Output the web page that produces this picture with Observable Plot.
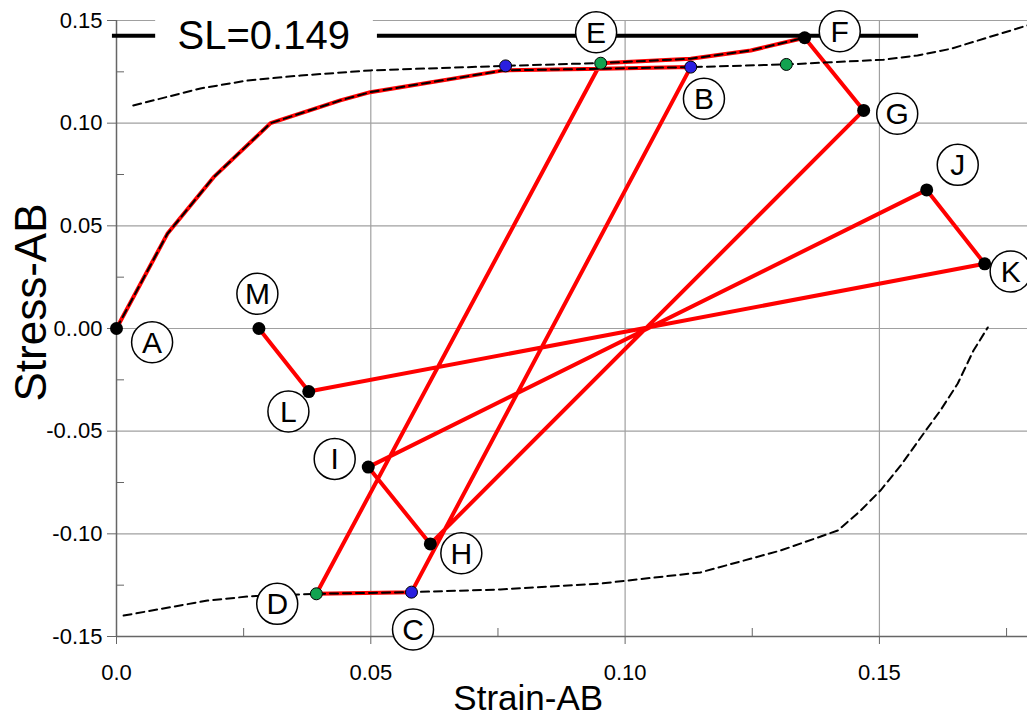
<!DOCTYPE html>
<html>
<head>
<meta charset="utf-8">
<script src="https://cdn.jsdelivr.net/npm/d3@7"></script>
<script src="https://cdn.jsdelivr.net/npm/@observablehq/plot@0.6"></script>
<style>
  html, body { margin: 0; padding: 0; background: white; }
  #chart { width: 1027px; height: 719px; overflow: hidden; }
</style>
</head>
<body>
<div id="chart"></div>
<script>
// ---- tick labels ----
const xTicks = [0, 0.05, 0.10, 0.15];
const xTickLabels = ["0.0", "0.05", "0.10", "0.15"];
const yTicks = [-0.15, -0.10, -0.05, 0, 0.05, 0.10, 0.15];
const yTickLabels = ["-0.15", "-0.10", "-0..05", "0..00", "0.05", "0.10", "0.15"];
const xMinor = [0.025, 0.075, 0.125, 0.175];
const yMinor = [-0.125, -0.075, -0.025, 0.025, 0.075, 0.125];

// ---- red stress path A..M ----
const pathStrain = [0, 0.0100, 0.0191, 0.0303, 0.0440, 0.0499, 0.0761, 0.0952, 0.1129, 0.0580, 0.0393, 0.0952, 0.1129, 0.1247, 0.1353, 0.1469, 0.0617, 0.0495, 0.1593, 0.1707, 0.0378, 0.0280];
const pathStress = [0, 0.0461, 0.0737, 0.1000, 0.1111, 0.1151, 0.1257, 0.1265, 0.1273, -0.1284, -0.1292, 0.1292, 0.1314, 0.1354, 0.1416, 0.1062, -0.1049, -0.0675, 0.0675, 0.0315, -0.0307, 0.0];

// ---- dashed curves ----
const backboneStrain = [0, 0.0100, 0.0191, 0.0303, 0.0440, 0.0499, 0.0761, 0.0952, 0.1129, 0.1317, 0.1508, 0.1575, 0.1640, 0.1705, 0.1791];
const backboneStress = [0, 0.0461, 0.0737, 0.1000, 0.1111, 0.1151, 0.1257, 0.1265, 0.1273, 0.1286, 0.1309, 0.1330, 0.1362, 0.1411, 0.1476];
const upperStrain = [0.0033, 0.0165, 0.0258, 0.0362, 0.0499, 0.0765, 0.0952, 0.1129, 0.1247, 0.1353];
const upperStress = [0.1086, 0.1169, 0.1208, 0.1232, 0.1257, 0.1279, 0.1293, 0.1314, 0.1354, 0.1416];
const lowerStrain = [0.0014, 0.0179, 0.0263, 0.0393, 0.0580, 0.0755, 0.0952, 0.1148, 0.1306, 0.1418, 0.1463, 0.1502, 0.1542, 0.1587, 0.1620, 0.1654, 0.1685, 0.1713];
const lowerStress = [-0.1398, -0.1325, -0.1304, -0.1292, -0.1284, -0.1271, -0.1242, -0.1188, -0.1081, -0.0984, -0.0887, -0.0789, -0.0667, -0.0511, -0.0399, -0.0268, -0.0107, 0.0005];

// ---- marker points ----
const blackStrain = [0, 0.1353, 0.1469, 0.0617, 0.0495, 0.1593, 0.1707, 0.0378, 0.0280];
const blackStress = [0, 0.1416, 0.1062, -0.1049, -0.0675, 0.0675, 0.0315, -0.0307, 0.0];
const blueStrain = [0.0765, 0.1129, 0.0580];
const blueStress = [0.1279, 0.1273, -0.1284];
const greenStrain = [0.0952, 0.0393, 0.1317];
const greenStress = [0.1292, -0.1292, 0.1286];

// ---- point labels ----
const labelNames = ["A", "B", "C", "D", "E", "F", "G", "H", "I", "J", "K", "L", "M"];
const labelStrain = [0.0070, 0.1155, 0.0583, 0.0316, 0.0943, 0.1422, 0.1535, 0.0678, 0.0429, 0.1654, 0.1758, 0.0338, 0.0277];
const labelStress = [-0.0067, 0.1119, -0.1466, -0.1341, 0.1443, 0.1448, 0.1046, -0.1095, -0.0635, 0.0797, 0.0278, -0.0404, 0.0169];

// ---- strength line ----
const slText = "SL=0.149";
const slStress = 0.1426;
const slSegStart = [-0.0008, 0.0513];
const slSegEnd = [0.0077, 0.1577];
const slTextStrain = 0.0120;
const slBox = {x1: 0.0077, x2: 0.0505, y1: 0.1252, y2: 0.1560};

const xTitle = "Strain-AB";
const yTitle = "Stress-AB";

const zip = (xs, ys) => xs.map((x, i) => ({x, y: ys[i]}));
const path = zip(pathStrain, pathStress);
const backbone = zip(backboneStrain, backboneStress);
const upper = zip(upperStrain, upperStress);
const lower = zip(lowerStrain, lowerStress);
const blacks = zip(blackStrain, blackStress);
const blues = zip(blueStrain, blueStress);
const greens = zip(greenStrain, greenStress);
const labels = labelNames.map((n, i) => ({n, x: labelStrain[i], y: labelStress[i]}));
const slSegs = slSegStart.map((s, i) => ({x1: s, x2: slSegEnd[i], y: slStress}));

const fmt = (ticks, labs) => d => labs[ticks.findIndex(t => Math.abs(t - d) < 1e-9)];

const gridColor = "#a0a0a0";
const axisColor = "#666666";
const dash = "8,5";

const chart = Plot.plot({
  width: 1027,
  height: 719,
  marginLeft: 116,
  marginRight: -4.5,
  marginTop: 20,
  marginBottom: 83,
  x: {domain: [0, 0.18]},
  y: {domain: [-0.15, 0.15]},
  style: {fontFamily: "'Liberation Sans', Arial, sans-serif", fontSize: "22px", background: "white", color: "black"},
  marks: [
    Plot.gridX(xTicks.filter(d => d > 0), {stroke: gridColor, strokeOpacity: 1, strokeWidth: 1.2}),
    Plot.gridY(yTicks.filter(d => d > -0.15), {stroke: gridColor, strokeOpacity: 1, strokeWidth: 1.2}),
    Plot.rect([slBox], {x1: "x1", x2: "x2", y1: "y1", y2: "y2", fill: "white"}),
    Plot.ruleX([0], {stroke: axisColor, strokeWidth: 1.5}),
    Plot.ruleY([-0.15], {stroke: axisColor, strokeWidth: 1.5}),
    Plot.axisX(xTicks, {anchor: "bottom", tickSize: 8, tickPadding: 20, tickFormat: fmt(xTicks, xTickLabels), stroke: axisColor, label: null, fontSize: 22}),
    Plot.axisX(xMinor, {anchor: "bottom", tickSize: 8, dy: -8, text: null, stroke: axisColor, label: null}),
    Plot.axisY(yTicks, {anchor: "left", tickSize: 9, tickPadding: 5, tickFormat: fmt(yTicks, yTickLabels), stroke: axisColor, label: null, fontSize: 22}),
    Plot.axisY(yMinor, {anchor: "left", tickSize: 8, dx: 8, text: null, stroke: axisColor, label: null}),
    Plot.line(path, {x: "x", y: "y", stroke: "#ff0000", strokeWidth: 4, strokeLinejoin: "round"}),
    Plot.line(backbone, {x: "x", y: "y", stroke: "black", strokeWidth: 2, strokeDasharray: dash}),
    Plot.line(upper, {x: "x", y: "y", stroke: "black", strokeWidth: 2, strokeDasharray: dash}),
    Plot.line(lower, {x: "x", y: "y", stroke: "black", strokeWidth: 2, strokeDasharray: dash}),
    Plot.dot(blacks, {x: "x", y: "y", r: 6.5, fill: "black"}),
    Plot.dot(blues, {x: "x", y: "y", r: 6, fill: "#2a1fe0", stroke: "black", strokeWidth: 1}),
    Plot.dot(greens, {x: "x", y: "y", r: 6, fill: "#12a350", stroke: "black", strokeWidth: 1}),
    Plot.ruleY(slSegs, {x1: "x1", x2: "x2", y: "y", stroke: "black", strokeWidth: 4}),
    Plot.text([slText], {x: slTextStrain, y: slStress, text: d => d, textAnchor: "start", lineAnchor: "middle", fontSize: 40, fill: "black"}),
    Plot.dot(labels, {x: "x", y: "y", r: 20.5, fill: "white", stroke: "black", strokeWidth: 1.5}),
    Plot.text(labels, {x: "x", y: "y", text: "n", fontSize: 30, fill: "black", lineAnchor: "middle", dy: 1}),
    Plot.text([yTitle], {frameAnchor: "left", textAnchor: "middle", lineAnchor: "middle", dx: -85, dy: -26, rotate: -90, text: d => d, fontSize: 44, fill: "black"}),
    Plot.text([xTitle], {frameAnchor: "bottom", textAnchor: "middle", lineAnchor: "middle", dx: -46, dy: 62, text: d => d, fontSize: 35, fill: "black"})
  ]
});
document.getElementById("chart").append(chart);
</script>
</body>
</html>
